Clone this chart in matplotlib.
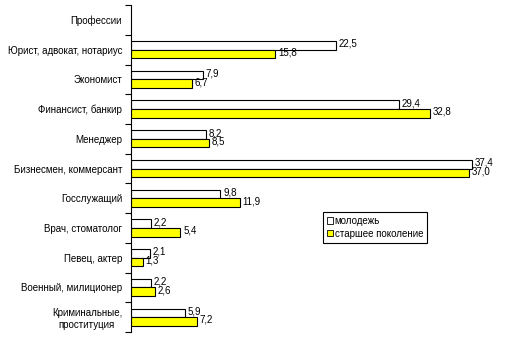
import matplotlib.pyplot as plt
import numpy as np
from matplotlib.patches import Patch

plt.rcParams['font.family'] = ['Liberation Sans', 'DejaVu Sans']

# Data (the first row is a header with no bars)
categories = ['Профессии', 'Юрист, адвокат, нотариус', 'Экономист', 'Финансист, банкир',
              'Менеджер', 'Бизнесмен, коммерсант', 'Госслужащий', 'Врач, стоматолог',
              'Певец, актер', 'Военный, милиционер', 'Криминальные,\nпроституция']
youth = [None, 22.5, 7.9, 29.4, 8.2, 37.4, 9.8, 2.2, 2.1, 2.2, 5.9]
older = [None, 15.8, 6.7, 32.8, 8.5, 37.0, 11.9, 5.4, 1.3, 2.6, 7.2]
series_names = ['молодежь', 'старшее поколение']

fig = plt.figure(figsize=(5.16, 3.4), dpi=100)
ax = fig.add_axes([0.254, 0.0235, 0.716, 0.9615])

n = len(categories)
y = np.arange(n)
h = 0.29

for i in range(n):
    if youth[i] is None:
        continue
    ax.barh(i - h / 2, youth[i], height=h, color='white', edgecolor='black', linewidth=0.8)
    ax.barh(i + h / 2, older[i], height=h, color='#ffff00', edgecolor='black', linewidth=0.8)
    ax.text(youth[i] + 0.3, i - h / 2 - 0.05, f'{youth[i]:.1f}'.replace('.', ','),
            fontsize=7, va='center', ha='left')
    ax.text(older[i] + 0.3, i + h / 2 - 0.05, f'{older[i]:.1f}'.replace('.', ','),
            fontsize=7, va='center', ha='left')

ax.set_xlim(0, 40.5)
ax.set_ylim(n - 0.5, -0.5)
ax.set_yticks(y)
ax.set_yticklabels(categories, fontsize=7, ha='right', multialignment='center')
ax.tick_params(axis='y', which='major', length=0, pad=6.5)
ax.set_yticks(np.arange(n + 1) - 0.5, minor=True)
ax.tick_params(axis='y', which='minor', length=4, width=0.8, direction='out')
ax.set_xticks([])
for s in ['top', 'right', 'bottom']:
    ax.spines[s].set_visible(False)
ax.spines['left'].set_linewidth(0.8)

handles = [Patch(facecolor='white', edgecolor='black', linewidth=0.6),
           Patch(facecolor='#ffff00', edgecolor='black', linewidth=0.6)]
leg = ax.legend(handles, series_names, fontsize=7, loc='upper left',
                bbox_to_anchor=(0.506, 0.382), handlelength=0.6, handleheight=0.6,
                handletextpad=0.2, borderpad=0.4, labelspacing=0.3,
                fancybox=False, framealpha=1)
leg.get_frame().set_edgecolor('black')
leg.get_frame().set_linewidth(0.8)

plt.savefig('out.png', dpi=100)
